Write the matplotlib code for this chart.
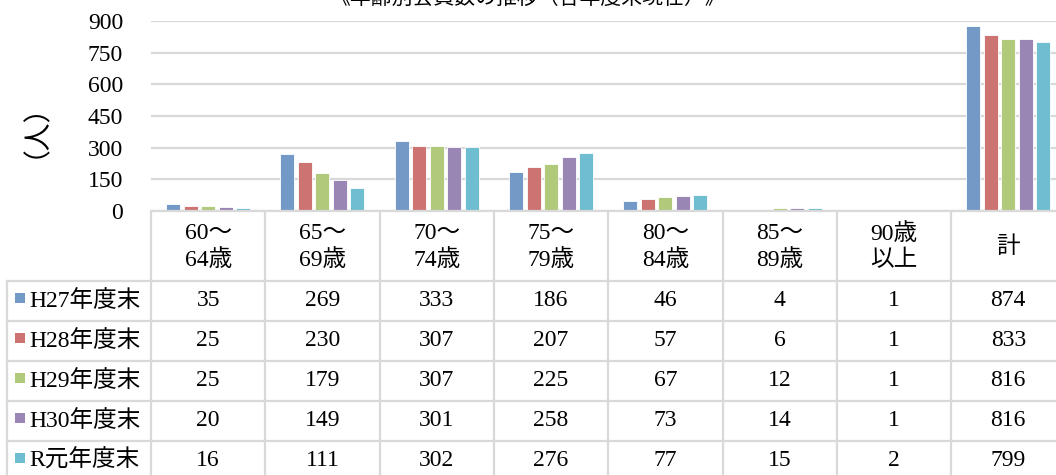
import numpy as np
import matplotlib
matplotlib.use('Agg')
import matplotlib.pyplot as plt

plt.rcParams['font.family'] = ['Liberation Serif', 'Noto Sans CJK JP']

categories = ['60～\n64歳', '65～\n69歳', '70～\n74歳', '75～\n79歳',
              '80～\n84歳', '85～\n89歳', '90歳\n以上', '計']
series = ['H27年度末', 'H28年度末', 'H29年度末', 'H30年度末', 'R元年度末']
h27 = [35, 269, 333, 186, 46, 4, 1, 874]
h28 = [25, 230, 307, 207, 57, 6, 1, 833]
h29 = [25, 179, 307, 225, 67, 12, 1, 816]
h30 = [20, 149, 301, 258, 73, 14, 1, 816]
r01 = [16, 111, 302, 276, 77, 15, 2, 799]
values = [h27, h28, h29, h30, r01]
colors = ['#7399c6', '#cd7371', '#b0c97a', '#9a86b4', '#6fbdd1']
yticks = [0, 150, 300, 450, 600, 750, 900]
title = '《年齢別会員数の推移（各年度末現在）》'

W, H = 1056, 475
fig = plt.figure(figsize=(W / 100, H / 100), dpi=100)

# pixel layout
x0, colw = 151, 114.3
top, zero = 21, 211
ax = fig.add_axes([x0 / W, (H - zero) / H, 8 * colw / W, (zero - top) / H])

x = np.arange(len(categories))
step, bw = 17.5 / colw, 14 / colw
for i, (vals, c) in enumerate(zip(values, colors)):
    ax.bar(x + (i - 2) * step, vals, bw, color=c, edgecolor='white',
           linewidth=0.6, zorder=3)

ax.set_xlim(-0.5, 7.5)
ax.set_ylim(0, 900)
ax.set_yticks(yticks)
ax.set_yticklabels([str(v) for v in yticks], fontsize=17)
ax.tick_params(axis='y', length=0, pad=20)
ax.set_xticks([])
ax.grid(axis='y', color='#d9d9d9', linewidth=1.6, zorder=0)
for s in ax.spines.values():
    s.set_visible(False)
ax.set_ylabel('（人）', fontsize=20, labelpad=38)

fig.text(528 / W, 1 - 9 / H, title, ha='center', va='bottom', fontsize=15)

# data table below the plot, y in pixels (inverted)
tb = fig.add_axes([0, 0, 1, (H - zero) / H])
tb.set_xlim(-0.5 - x0 / colw, -0.5 + (W - x0) / colw)
tb.set_ylim(H, zero)
tb.axis('off')

lc, lw = '#d9d9d9', 1.6
hdr_bot = 281
rowh = 40
rows_y = [hdr_bot + k * rowh for k in range(len(series) + 1)]
left = -0.5 - (x0 - 7) / colw

# horizontal lines
tb.plot([-0.5, 7.5], [zero, zero], color=lc, lw=lw, clip_on=False)
for yy in rows_y:
    tb.plot([left, 7.5], [yy, yy], color=lc, lw=lw, clip_on=False)
# vertical lines
for k in range(9):
    tb.plot([k - 0.5, k - 0.5], [zero, rows_y[-1]], color=lc, lw=lw)
tb.plot([left, left], [hdr_bot, rows_y[-1]], color=lc, lw=lw)

for k, cat in enumerate(categories):
    tb.text(k, (zero + hdr_bot) / 2 + 1, cat, ha='center', va='center',
            fontsize=17, linespacing=1.25)

for r, (name, vals, c) in enumerate(zip(series, values, colors)):
    yc = rows_y[r] + rowh / 2
    tb.scatter([left + 12.5 / colw], [yc - 3], marker='s', s=60, color=c,
               linewidths=0, clip_on=False)
    tb.text(left + 22 / colw, yc, name, ha='left', va='center', fontsize=17)
    for k, v in enumerate(vals):
        tb.text(k, yc, str(v), ha='center', va='center', fontsize=17)

fig.savefig('out.png', dpi=100)
